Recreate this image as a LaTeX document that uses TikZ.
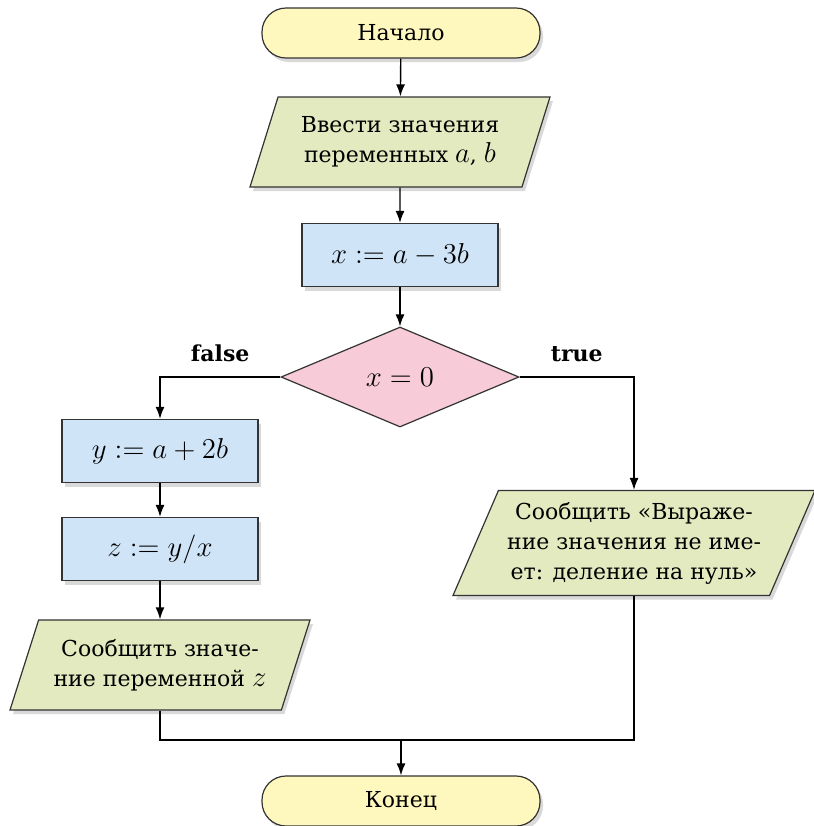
\documentclass[tikz,border=0pt]{standalone}
\usepackage{fontspec}
\setmainfont{DejaVu Serif}
\DeclareMathSizes{11}{13.5}{9}{7}
\usetikzlibrary{arrows.meta}
\usetikzlibrary{shapes.geometric, shadows}
\definecolor{termyellow}{RGB}{255, 248, 190}
\definecolor{iogreen}{RGB}{227, 234, 191}
\definecolor{procblue}{RGB}{207, 228, 247}
\definecolor{condpink}{RGB}{247, 203, 216}

\begin{document}
\begin{tikzpicture}[x=0.5pt, y=-0.5pt, font=\fontsize{11}{15}\selectfont,
  base/.style={draw=black!80, line width=0.6pt, align=center, inner sep=0pt},
  softshadow/.style={drop shadow={shadow xshift=1.5pt, shadow yshift=-2pt, opacity=0.3}},
  term/.style={base, rounded corners=12pt, minimum width=139pt, minimum height=25pt, fill=termyellow, softshadow},
  io/.style={base, trapezium, trapezium left angle=61, trapezium right angle=119, trapezium stretches body, fill=iogreen, softshadow},
  proc/.style={base, rectangle, minimum width=98pt, minimum height=31.5pt, fill=procblue, softshadow},
  cond/.style={base, diamond, minimum width=119pt, minimum height=50pt, fill=condpink},
  flow/.style={-{Latex[length=6pt, width=4.5pt]}, line width=0.7pt}]

\useasboundingbox (0,0) rectangle (814,826);

 %top
 \node[term] (start) at (401,33) {Начало};
 \node[io, minimum width=150pt, minimum height=45pt] (input) at (400,142) {Ввести значения\\переменных $a$, $b$};
 \node[proc] (calcx) at (400,255) {$x := a - 3b$};
 \node[cond] (check) at (400,377) {$x = 0$};

 %false branch
 \node[proc] (calcy) at (160,451) {$y := a + 2b$};
 \node[proc] (calcz) at (160,549) {$z := y/x$};
 \node[io, minimum width=150pt, minimum height=45pt] (outz) at (160,665) {Сообщить значе-\\ние переменной $z$};

 %true branch
 \node[io, minimum width=181pt, minimum height=52.5pt] (outerr) at (634,543) {Сообщить «Выраже-\\ние значения не име-\\ет: деление на нуль»};

 %end
 \node[term] (finish) at (401,801) {Конец};
 \coordinate (merge) at (401,740);

 \draw[flow] (start) -- (input);
 \draw[flow] (input) -- (calcx);
 \draw[flow] (calcx) -- (check);
 \draw[flow] (check.west) -| node[pos=0.25, above=4pt]{\textbf{false}} (calcy.north);
 \draw[flow] (check.east) -| node[pos=0.25, above=4pt]{\textbf{true}} (outerr.north);
 \draw[flow] (calcy) -- (calcz);
 \draw[flow] (calcz) -- (outz);
 \draw[line width=0.7pt] (outz.south) |- (merge);
 \draw[line width=0.7pt] (outerr.south) |- (merge);
 \draw[flow] (merge) -- (finish);

\end{tikzpicture}
\end{document}
